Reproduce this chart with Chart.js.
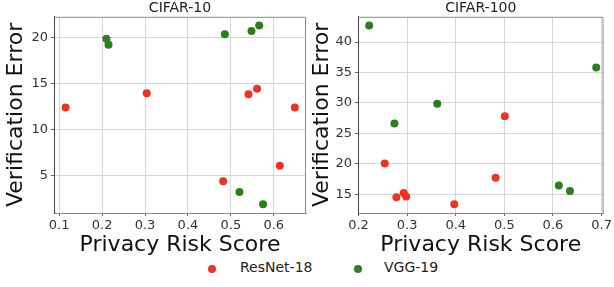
<!DOCTYPE html>
<html lang="en">
<head>
    <meta charset="UTF-8">
    <title>Verification Error vs Privacy Risk Score</title>
    <script src="https://cdn.jsdelivr.net/npm/chart.js"></script>
    <style>
        body { margin: 0; background: #fff; font-family: "DejaVu Sans", sans-serif; }
        #wrap { position: relative; width: 614px; height: 287px; }
        canvas { position: absolute; top: 0; }
        .leg { position: absolute; top: 259px; font-size: 14px; color: #222; white-space: nowrap; }
        .dot { position: absolute; width: 8px; height: 8px; border-radius: 50%; }
    </style>
</head>
<body>
<div id="wrap">
    <canvas id="c10" width="310" height="258" style="left:0"></canvas>
    <canvas id="c100" width="314" height="258" style="left:300px"></canvas>
    <span class="dot" id="dotRes" style="left:208px;top:265px"></span>
    <span class="leg" style="left:240px">ResNet-18</span>
    <span class="dot" id="dotVgg" style="left:354px;top:265px"></span>
    <span class="leg" style="left:384px">VGG-19</span>
</div>

<script>
    // CIFAR-10 (privacy risk score, verification error)
    const c10ResX = [0.115, 0.304, 0.482, 0.541, 0.561, 0.614, 0.649];
    const c10ResY = [12.4, 13.95, 4.35, 13.85, 14.45, 6.05, 12.4];
    const c10VggX = [0.210, 0.215, 0.486, 0.548, 0.566, 0.520, 0.575];
    const c10VggY = [19.9, 19.25, 20.4, 20.75, 21.35, 3.2, 1.85];

    // CIFAR-100
    const c100ResX = [0.254, 0.278, 0.293, 0.298, 0.397, 0.482, 0.501];
    const c100ResY = [20.05, 14.5, 15.2, 14.6, 13.35, 17.7, 27.8];
    const c100VggX = [0.222, 0.274, 0.362, 0.612, 0.635, 0.689];
    const c100VggY = [42.7, 26.6, 29.85, 16.4, 15.5, 35.8];

    const c10XTicks = [0.1, 0.2, 0.3, 0.4, 0.5, 0.6];
    const c10YTicks = [5, 10, 15, 20];
    const c100XTicks = [0.2, 0.3, 0.4, 0.5, 0.6, 0.7];
    const c100YTicks = [15, 20, 25, 30, 35, 40];

    const seriesNames = ['ResNet-18', 'VGG-19'];
    const colRes = '#ee3325';
    const colVgg = '#2e7d1f';

    document.getElementById('dotRes').style.background = colRes;
    document.getElementById('dotVgg').style.background = colVgg;

    const toPts = (xs, ys) => xs.map((x, i) => ({ x: x, y: ys[i] }));

    // draws top and right spines
    const boxPlugin = {
        id: 'box',
        afterDraw(chart) {
            const a = chart.chartArea, c = chart.ctx;
            c.save();
            c.strokeStyle = '#8a8a8a';
            c.lineWidth = 1;
            c.beginPath();
            c.moveTo(a.left, a.top + 0.5);
            c.lineTo(a.right - 0.5, a.top + 0.5);
            c.lineTo(a.right - 0.5, a.bottom);
            c.stroke();
            c.restore();
        }
    };

    function makeChart(id, title, res, vgg, xr, yr, xt, yt, yW, padR, yTitlePad) {
        return new Chart(document.getElementById(id), {
            type: 'scatter',
            data: {
                datasets: [
                    { label: seriesNames[0], data: res, backgroundColor: colRes, borderWidth: 0, pointRadius: 4, pointHoverRadius: 4 },
                    { label: seriesNames[1], data: vgg, backgroundColor: colVgg, borderWidth: 0, pointRadius: 4, pointHoverRadius: 4 }
                ]
            },
            options: {
                responsive: false,
                devicePixelRatio: 1,
                animation: false,
                layout: { padding: { left: 0, right: padR, top: 0, bottom: 0 } },
                plugins: {
                    legend: { display: false },
                    tooltip: { enabled: false },
                    title: {
                        display: true, text: title, fullSize: false,
                        color: '#222', font: { family: 'DejaVu Sans', size: 14, weight: 'normal' },
                        padding: { top: 0, bottom: 0 }
                    }
                },
                scales: {
                    x: {
                        type: 'linear', min: xr[0], max: xr[1],
                        afterFit: s => { s.height = 45; },
                        afterBuildTicks: s => { s.ticks = xt.map(v => ({ value: v })); },
                        ticks: { color: '#333', padding: 2, font: { family: 'DejaVu Sans', size: 13 }, callback: v => v.toFixed(1), maxRotation: 0 },
                        grid: { color: '#d6d6d6', tickLength: 3, tickColor: '#666' },
                        border: { color: '#8a8a8a' },
                        title: { display: true, text: 'Privacy Risk Score', color: '#111', font: { family: 'DejaVu Sans', size: 22 }, padding: { top: 0, bottom: 0 } }
                    },
                    y: {
                        type: 'linear', min: yr[0], max: yr[1],
                        afterFit: s => { s.width = yW; },
                        afterBuildTicks: s => { s.ticks = yt.map(v => ({ value: v })); },
                        ticks: { color: '#333', padding: 3, font: { family: 'DejaVu Sans', size: 13 } },
                        grid: { color: '#d6d6d6', tickLength: 3, tickColor: '#666' },
                        border: { color: '#444' },
                        title: { display: true, text: 'Verification Error', color: '#111', font: { family: 'DejaVu Sans', size: 22 }, padding: { top: yTitlePad, bottom: 0 } }
                    }
                }
            },
            plugins: [boxPlugin]
        });
    }

    makeChart('c10', 'CIFAR-10', toPts(c10ResX, c10ResY), toPts(c10VggX, c10VggY),
        [0.088, 0.675], [0.9, 22.3], c10XTicks, c10YTicks, 54, 4, 3);
    makeChart('c100', 'CIFAR-100', toPts(c100ResX, c100ResY), toPts(c100VggX, c100VggY),
        [0.199, 0.704], [11.9, 44.15], c100XTicks, c100YTicks, 58, 8, 9);
</script>
</body>
</html>
